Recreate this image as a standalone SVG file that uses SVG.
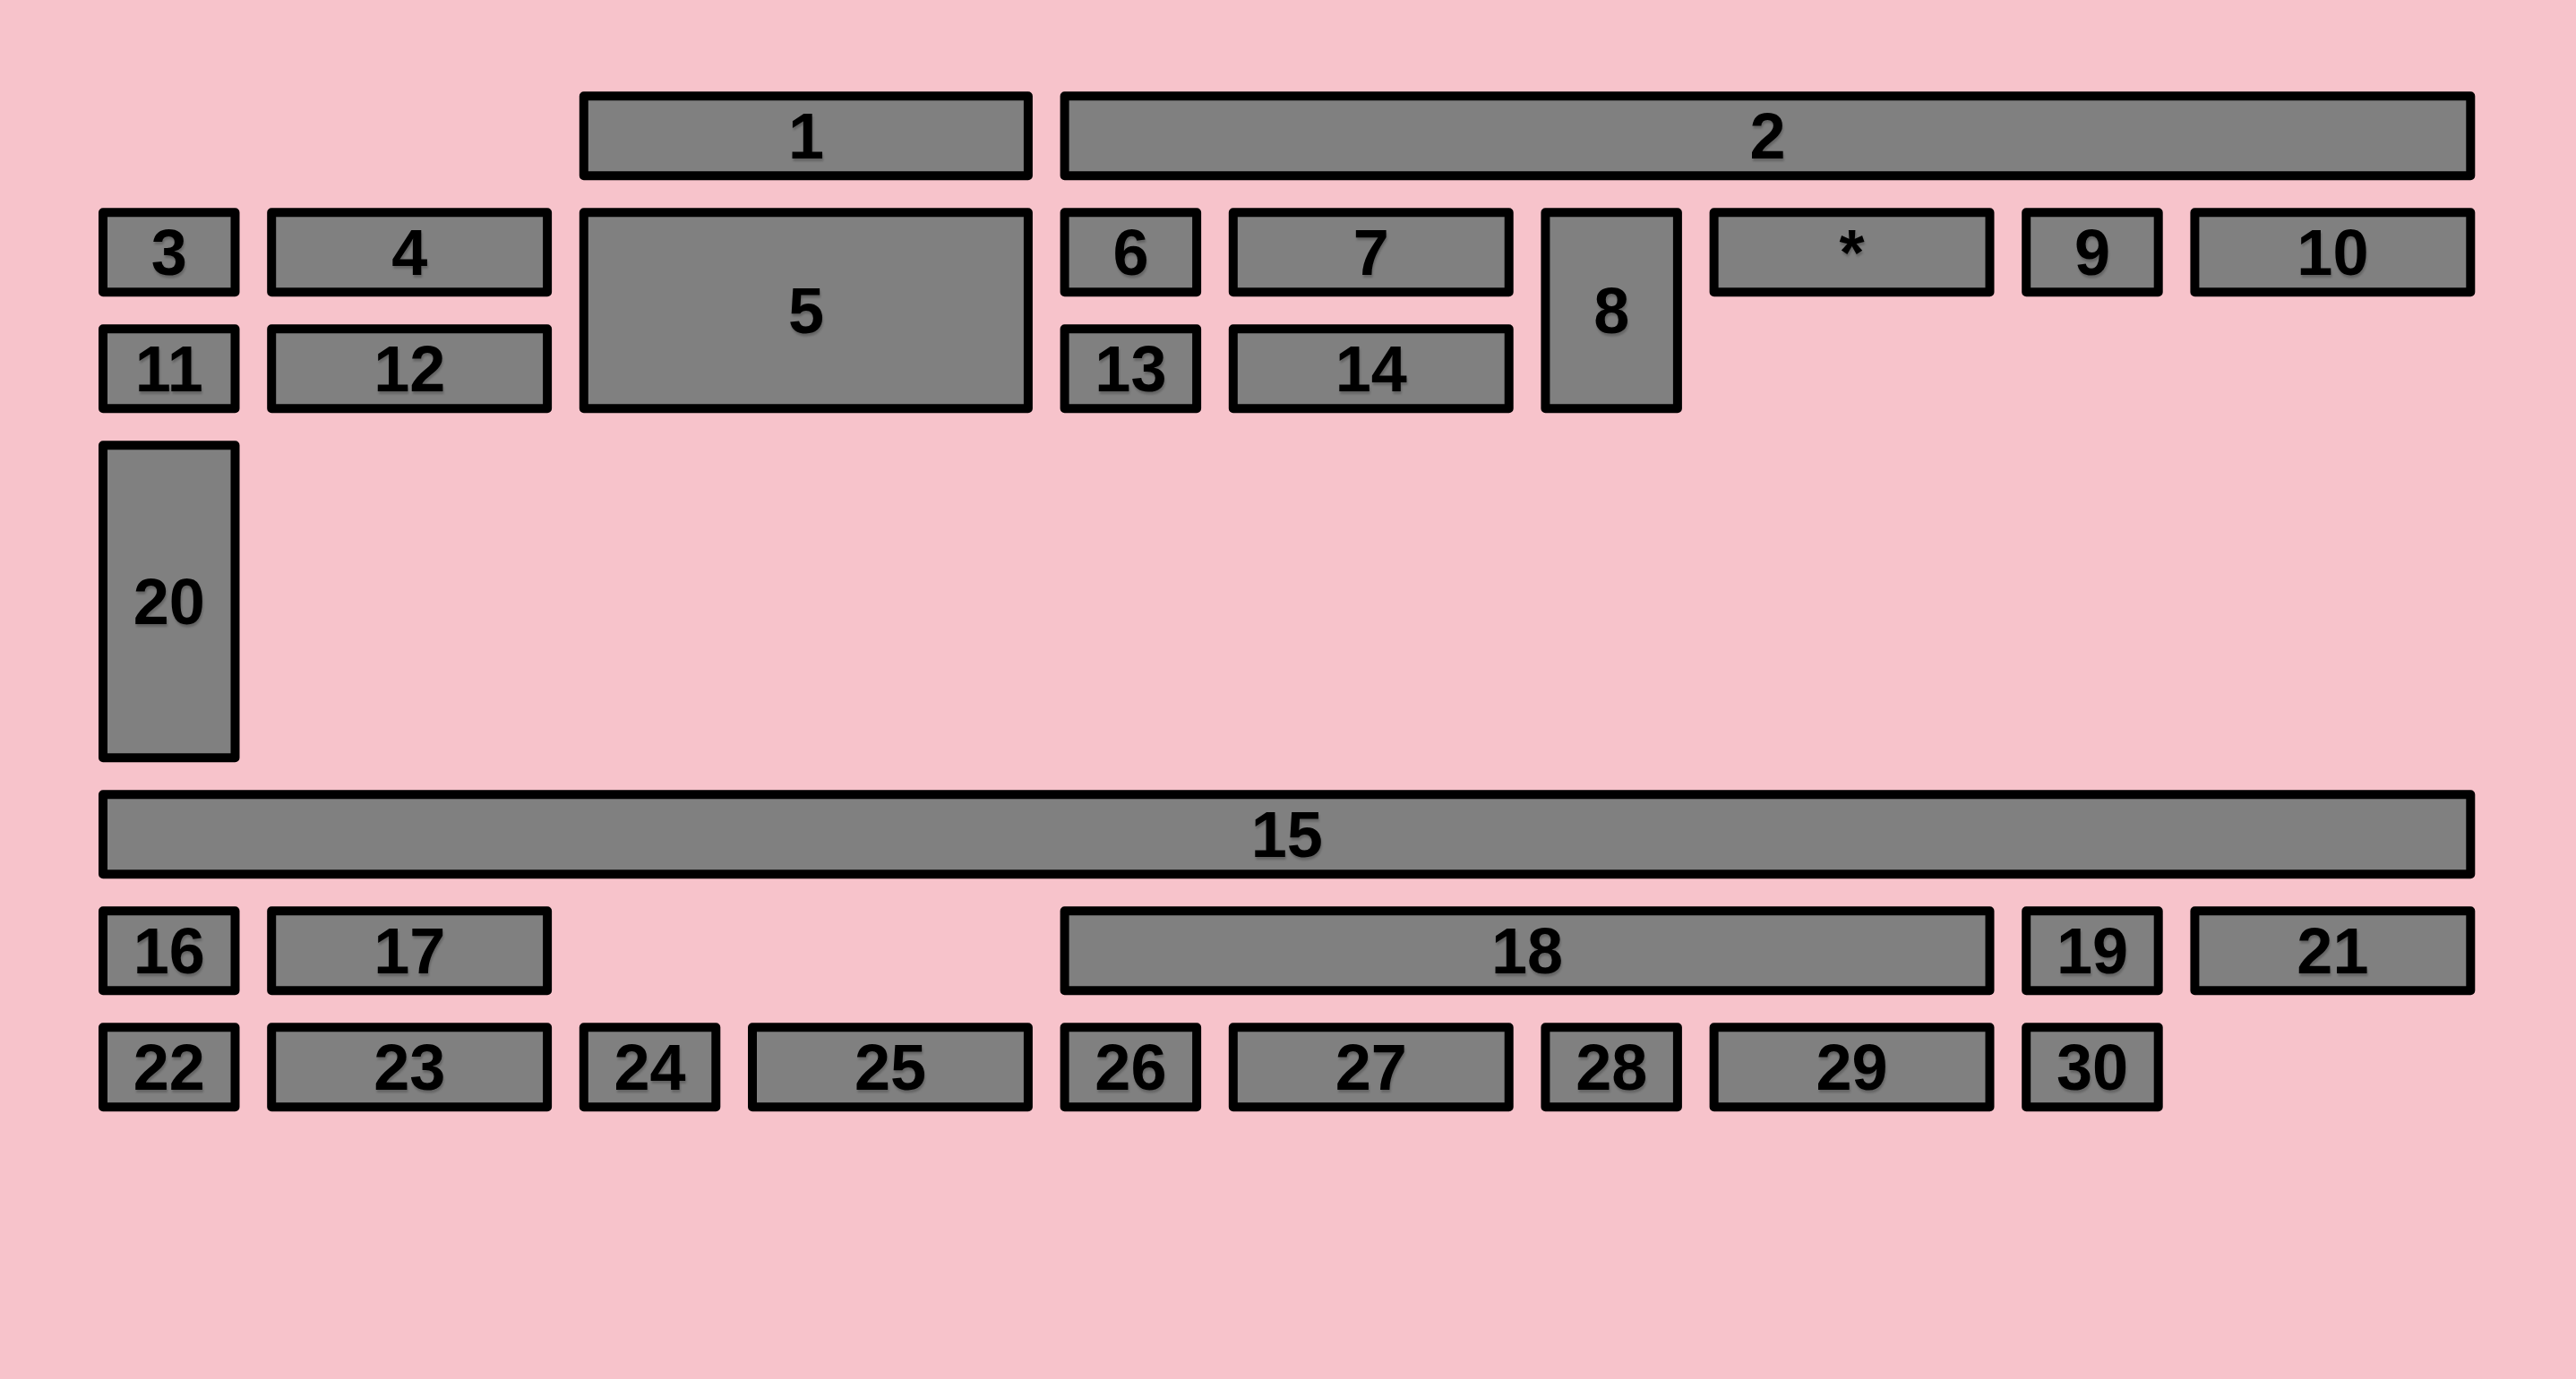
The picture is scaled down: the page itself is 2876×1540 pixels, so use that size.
<svg xmlns="http://www.w3.org/2000/svg" width="2876" height="1540" viewBox="0 0 2876 1540">
<defs>
<style>
.box{fill:#808080;stroke:#000;stroke-width:10;stroke-linejoin:round}
.lbl{font-family:"Liberation Sans",Arial,sans-serif;font-weight:bold;font-size:72px;fill:#000;text-anchor:middle;filter:url(#sh)}
</style>
<filter id="sh" x="-20%" y="-20%" width="140%" height="150%">
<feDropShadow dx="1" dy="3" stdDeviation="1.2" flood-color="#000" flood-opacity="0.22"/>
</filter>
</defs>
<rect x="0" y="0" width="2876" height="1540" fill="#f7c3cb"/>
<g id="connectors"></g>
<g id="node-1"><rect class="box" x="651.8" y="107.3" width="496.1" height="89"/><text class="lbl" x="899.9" y="177">1</text></g>
<g id="node-2"><rect class="box" x="1188.6" y="107.3" width="1569.7" height="89"/><text class="lbl" x="1973.5" y="177">2</text></g>
<g id="node-3"><rect class="box" x="115" y="237.3" width="147.5" height="89"/><text class="lbl" x="188.8" y="307">3</text></g>
<g id="node-4"><rect class="box" x="303.2" y="237.3" width="307.9" height="89"/><text class="lbl" x="457.2" y="307">4</text></g>
<g id="node-5"><rect class="box" x="651.8" y="237.3" width="496.1" height="219"/><text class="lbl" x="899.9" y="372">5</text></g>
<g id="node-6"><rect class="box" x="1188.6" y="237.3" width="147.5" height="89"/><text class="lbl" x="1262.4" y="307">6</text></g>
<g id="node-7"><rect class="box" x="1376.8" y="237.3" width="307.9" height="89"/><text class="lbl" x="1530.8" y="307">7</text></g>
<g id="node-8"><rect class="box" x="1725.4" y="237.3" width="147.5" height="219"/><text class="lbl" x="1799.2" y="372">8</text></g>
<g id="node-star"><rect class="box" x="1913.6" y="237.3" width="307.9" height="89"/><text class="lbl" x="2067.6" y="307">*</text></g>
<g id="node-9"><rect class="box" x="2262.2" y="237.3" width="147.5" height="89"/><text class="lbl" x="2336" y="307">9</text></g>
<g id="node-10"><rect class="box" x="2450.4" y="237.3" width="307.9" height="89"/><text class="lbl" x="2604.4" y="307">10</text></g>
<g id="node-11"><rect class="box" x="115" y="367.3" width="147.5" height="89"/><text class="lbl" x="188.8" y="437">11</text></g>
<g id="node-12"><rect class="box" x="303.2" y="367.3" width="307.9" height="89"/><text class="lbl" x="457.2" y="437">12</text></g>
<g id="node-13"><rect class="box" x="1188.6" y="367.3" width="147.5" height="89"/><text class="lbl" x="1262.4" y="437">13</text></g>
<g id="node-14"><rect class="box" x="1376.8" y="367.3" width="307.9" height="89"/><text class="lbl" x="1530.8" y="437">14</text></g>
<g id="node-20"><rect class="box" x="115" y="497.3" width="147.5" height="349"/><text class="lbl" x="188.8" y="697">20</text></g>
<g id="node-15"><rect class="box" x="115" y="887.3" width="2643.3" height="89"/><text class="lbl" x="1436.7" y="957">15</text></g>
<g id="node-16"><rect class="box" x="115" y="1017.3" width="147.5" height="89"/><text class="lbl" x="188.8" y="1087">16</text></g>
<g id="node-17"><rect class="box" x="303.2" y="1017.3" width="307.9" height="89"/><text class="lbl" x="457.2" y="1087">17</text></g>
<g id="node-18"><rect class="box" x="1188.6" y="1017.3" width="1032.9" height="89"/><text class="lbl" x="1705.1" y="1087">18</text></g>
<g id="node-19"><rect class="box" x="2262.2" y="1017.3" width="147.5" height="89"/><text class="lbl" x="2336" y="1087">19</text></g>
<g id="node-21"><rect class="box" x="2450.4" y="1017.3" width="307.9" height="89"/><text class="lbl" x="2604.4" y="1087">21</text></g>
<g id="node-22"><rect class="box" x="115" y="1147.3" width="147.5" height="89"/><text class="lbl" x="188.8" y="1217">22</text></g>
<g id="node-23"><rect class="box" x="303.2" y="1147.3" width="307.9" height="89"/><text class="lbl" x="457.2" y="1217">23</text></g>
<g id="node-24"><rect class="box" x="651.8" y="1147.3" width="147.5" height="89"/><text class="lbl" x="725.6" y="1217">24</text></g>
<g id="node-25"><rect class="box" x="840" y="1147.3" width="307.9" height="89"/><text class="lbl" x="994" y="1217">25</text></g>
<g id="node-26"><rect class="box" x="1188.6" y="1147.3" width="147.5" height="89"/><text class="lbl" x="1262.4" y="1217">26</text></g>
<g id="node-27"><rect class="box" x="1376.8" y="1147.3" width="307.9" height="89"/><text class="lbl" x="1530.8" y="1217">27</text></g>
<g id="node-28"><rect class="box" x="1725.4" y="1147.3" width="147.5" height="89"/><text class="lbl" x="1799.2" y="1217">28</text></g>
<g id="node-29"><rect class="box" x="1913.6" y="1147.3" width="307.9" height="89"/><text class="lbl" x="2067.6" y="1217">29</text></g>
<g id="node-30"><rect class="box" x="2262.2" y="1147.3" width="147.5" height="89"/><text class="lbl" x="2336" y="1217">30</text></g>
</svg>
